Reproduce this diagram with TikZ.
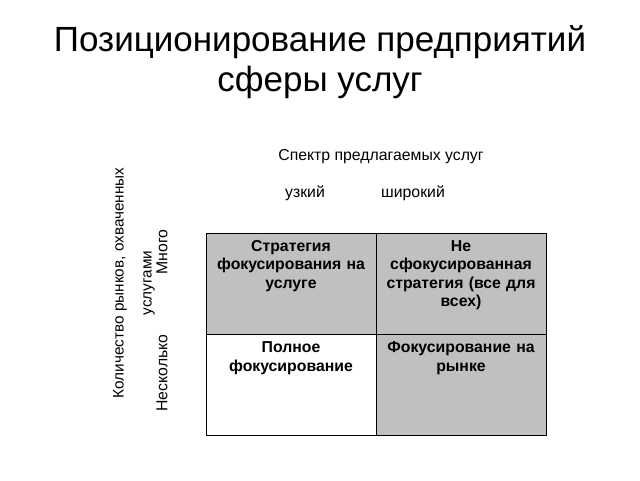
\documentclass[tikz,border=0pt]{standalone}
\usepackage{fontspec}
\setmainfont{Liberation Sans}
\definecolor{cellgray}{HTML}{C0C0C0}
\begin{document}
\begin{tikzpicture}[x=1pt,y=-1pt,
  cell/.style={draw=black, line width=0.9pt, minimum width=170pt, minimum height=101pt, inner sep=0pt, outer sep=0pt},
  celltext/.style={anchor=north, align=center, text width=165pt, font=\fontsize{15.8}{18.5}\selectfont\bfseries, inner sep=0pt},
  lbl/.style={font=\fontsize{15.8}{18}\selectfont, inner sep=0pt},
  title/.style={font=\fontsize{35}{40}\selectfont, align=center, inner sep=0pt}]
\useasboundingbox (0,0) rectangle (640,480);
\node[title] (title) at (320,62) {Позиционирование предприятий\\сферы услуг};
\node[lbl] (spec) at (381,157) {Спектр предлагаемых услуг};
\node[lbl] (narrow) at (305,193) {узкий};
\node[lbl] (wide) at (413,193) {широкий};
\node[lbl, rotate=90, align=center, font=\fontsize{15.3}{28}\selectfont] (axis) at (134,283) {Количество рынков, охваченных\\услугами};
\node[lbl, rotate=90] (many) at (162,252) {Много};
\node[lbl, rotate=90] (few) at (162,373) {Несколько};
\node[cell, fill=cellgray] (c11) at (291,283.5) {};
\node[cell, fill=cellgray] (c12) at (461,283.5) {};
\node[cell, fill=white] (c21) at (291,385) {};
\node[cell, fill=cellgray] (c22) at (461,385) {};
\node[celltext] (t11) at ([yshift=-7pt]c11.north) {Стратегия\\фокусирования на\\услуге};
\node[celltext] (t12) at ([yshift=-7pt]c12.north) {Не\\сфокусированная\\стратегия (все для\\всех)};
\node[celltext] (t21) at ([yshift=-7pt]c21.north) {Полное\\фокусирование};
\node[celltext] (t22) at ([yshift=-7pt]c22.north) {Фокусирование на\\рынке};
\end{tikzpicture}
\end{document}
